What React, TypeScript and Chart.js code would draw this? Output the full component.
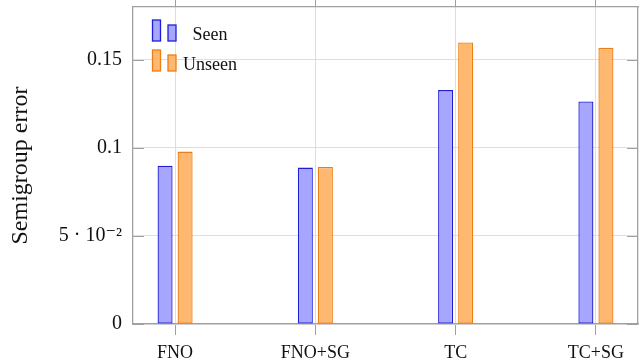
import React, { useEffect, useRef } from "react";
import { Chart, registerables } from "chart.js";

Chart.register(...registerables);

const categories = ["FNO", "FNO+SG", "TC", "TC+SG"];
const seenValues = [0.0899, 0.0888, 0.1328, 0.1263];
const unseenValues = [0.0979, 0.0892, 0.1598, 0.1568];
const yTickValues = [0, 0.05, 0.1, 0.15];
const yTickLabels = ["0", "5 · 10⁻²", "0.1", "0.15"];
const seriesLabels = ["Seen", "Unseen"];

const SERIF = "'Liberation Serif', 'DejaVu Serif', serif";
const seenFill = "rgb(166,166,255)";
const seenBorder = "rgb(30,30,215)";
const unseenFill = "rgb(255,184,112)";
const unseenBorder = "rgb(238,125,20)";
const axisGray = "rgb(160,160,160)";
const gridGray = "rgb(222,222,222)";

const innerTicks = {
  id: "innerTicks",
  afterDatasetsDraw(chart: any) {
    const { ctx, chartArea } = chart;
    const y = chart.scales.y;
    ctx.save();
    ctx.strokeStyle = axisGray;
    ctx.lineWidth = 1;
    y.ticks.forEach((t: any) => {
      const py = Math.round(y.getPixelForValue(t.value)) + 0.5;
      ctx.beginPath();
      ctx.moveTo(chartArea.left, py);
      ctx.lineTo(chartArea.left + 11, py);
      ctx.moveTo(chartArea.right, py);
      ctx.lineTo(chartArea.right - 11, py);
      ctx.stroke();
    });
    ctx.restore();
  },
};

const insideLegend = {
  id: "insideLegend",
  afterDraw(chart: any) {
    const { ctx, chartArea } = chart;
    ctx.save();
    chart.data.datasets.forEach((ds: any, i: number) => {
      const top = chartArea.top + 13 + i * 30;
      const bottom = top + 21;
      const x0 = chartArea.left + 19.5;
      const x1 = chartArea.left + 35;
      ctx.fillStyle = ds.backgroundColor;
      ctx.strokeStyle = ds.borderColor;
      ctx.lineWidth = 1.3;
      ctx.fillRect(x0, top, 8, bottom - top);
      ctx.strokeRect(x0, top, 8, bottom - top);
      ctx.fillRect(x1, top + 5, 8, bottom - top - 5);
      ctx.strokeRect(x1, top + 5, 8, bottom - top - 5);
      ctx.fillStyle = "#111";
      ctx.font = `18px ${SERIF}`;
      ctx.textAlign = "center";
      ctx.textBaseline = "alphabetic";
      ctx.fillText(ds.label, chartArea.left + 77, bottom - 1);
    });
    ctx.restore();
  },
};

function noPad(s: any) {
  s.paddingTop = 0;
  s.paddingBottom = 0;
  s.paddingLeft = 0;
  s.paddingRight = 0;
}

export default function App() {
  const ref = useRef<HTMLCanvasElement | null>(null);
  useEffect(() => {
    document.body.style.margin = "0";
    if (!ref.current) return;
    const chart = new Chart(ref.current, {
      type: "bar",
      data: {
        datasets: [
          {
            label: seriesLabels[0],
            data: seenValues.map((v, i) => ({ x: i, y: v })),
            backgroundColor: seenFill,
            borderColor: seenBorder,
            borderWidth: 1.3,
            borderSkipped: false,
          },
          {
            label: seriesLabels[1],
            data: unseenValues.map((v, i) => ({ x: i, y: v })),
            backgroundColor: unseenFill,
            borderColor: unseenBorder,
            borderWidth: 1.3,
            borderSkipped: false,
          },
        ] as any,
      },
      options: {
        animation: false,
        responsive: false,
        maintainAspectRatio: false,
        layout: { padding: 0 },
        datasets: {
          bar: { categoryPercentage: 40 / 140, barPercentage: 0.75 },
        } as any,
        plugins: {
          legend: { display: false },
          tooltip: { enabled: false },
        },
        scales: {
          x: {
            type: "linear",
            position: "bottom",
            offset: false,
            min: -0.3,
            max: 3.3,
            afterBuildTicks: (s: any) => {
              s.ticks = categories.map((_, i) => ({ value: i }));
            },
            afterFit: (s: any) => {
              s.height = 40;
              noPad(s);
            },
            ticks: {
              callback: (v: any) => categories[Math.round(Number(v))] ?? "",
              font: { family: SERIF, size: 18 },
              color: "#111",
              padding: 7,
              maxRotation: 0,
              autoSkip: false,
            },
            grid: {
              offset: false,
              color: gridGray,
              tickColor: axisGray,
              tickLength: 11,
              lineWidth: 1,
            },
            border: { color: axisGray, width: 1.3 },
          },
          x2: {
            type: "linear",
            position: "top",
            offset: false,
            min: -0.3,
            max: 3.3,
            afterBuildTicks: (s: any) => {
              s.ticks = categories.map((_, i) => ({ value: i }));
            },
            afterFit: (s: any) => {
              s.height = 7;
              noPad(s);
            },
            ticks: { display: false },
            grid: {
              offset: false,
              drawOnChartArea: false,
              tickColor: axisGray,
              tickLength: 7,
            },
            border: { color: axisGray, width: 1.3 },
          },
          y: {
            type: "linear",
            position: "left",
            min: 0,
            max: 0.18,
            afterBuildTicks: (s: any) => {
              s.ticks = yTickValues.map((v) => ({ value: v }));
            },
            afterFit: (s: any) => {
              s.width = 133;
              noPad(s);
            },
            ticks: {
              callback: (v: any) => {
                const idx = yTickValues.findIndex((t) => Math.abs(t - Number(v)) < 1e-9);
                return idx >= 0 ? yTickLabels[idx] : "";
              },
              font: { family: SERIF, size: 20 },
              color: "#111",
              padding: 11,
            },
            grid: {
              color: gridGray,
              drawTicks: false,
              lineWidth: 1,
            },
            border: { color: axisGray, width: 1.3 },
            title: {
              display: true,
              text: "Semigroup error",
              font: { family: SERIF, size: 24 },
              color: "#111",
              padding: { top: 6, bottom: 0 },
            },
          },
          y2: {
            type: "linear",
            position: "right",
            min: 0,
            max: 0.18,
            afterFit: (s: any) => {
              s.width = 4;
              noPad(s);
            },
            ticks: { display: false },
            grid: { drawOnChartArea: false, drawTicks: false },
            border: { color: axisGray, width: 1.3 },
          },
        },
      },
      plugins: [innerTicks, insideLegend],
    });
    return () => chart.destroy();
  }, []);
  return (
    <canvas
      ref={ref}
      width={642}
      height={364}
      style={{ display: "block", width: 642, height: 364 }}
    />
  );
}
